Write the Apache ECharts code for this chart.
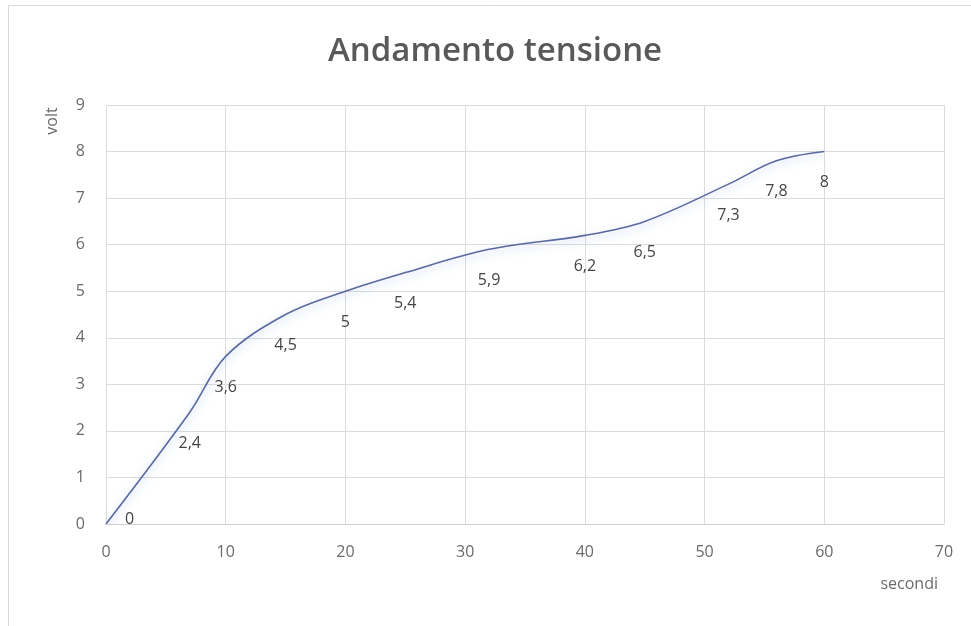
<!DOCTYPE html>
<html>
<head>
<meta charset="utf-8">
<script src="https://cdn.jsdelivr.net/npm/echarts@6/dist/echarts.min.js"></script>
<style>html,body{margin:0;padding:0;background:#fff}#c{width:971px;height:626px}</style>
</head>
<body>
<div id="c"></div>
<script>
var seconds = [0, 7, 10, 15, 20, 25, 32, 40, 45, 52, 56, 60];
var volts = [0, 2.4, 3.6, 4.5, 5, 5.4, 5.9, 6.2, 6.5, 7.3, 7.8, 8];
var labels = ['0', '2,4', '3,6', '4,5', '5', '5,4', '5,9', '6,2', '6,5', '7,3', '7,8', '8'];
var xTicks = [0, 10, 20, 30, 40, 50, 60, 70];
var yTicks = [0, 1, 2, 3, 4, 5, 6, 7, 8, 9];

var FONT = '"Open Sans", Lato, sans-serif';
var data = seconds.map(function (s, i) {
  var item = { value: [s, volts[i]] };
  if (i === 0) item.label = { position: 'right', distance: 18, offset: [0, -5] };
  return item;
});

var chart = echarts.init(document.getElementById('c'));
chart.setOption({
  animation: false,
  backgroundColor: '#fff',
  title: {
    text: 'Andamento tensione',
    left: 323, top: 30,
    textStyle: { fontFamily: FONT, fontSize: 33, fontWeight: 600, color: '#595959' }
  },
  grid: { left: 106, right: 27, top: 105, bottom: 102 },
  xAxis: {
    type: 'value', min: 0, max: 70, interval: 10,
    axisLine: { show: true, lineStyle: { color: '#d0d0d0' } },
    axisTick: { show: false },
    axisLabel: { color: '#6a6a6a', fontFamily: FONT, fontSize: 16, margin: 20,
      formatter: function (v) { return xTicks.indexOf(v) >= 0 ? String(v) : ''; } },
    splitLine: { show: true, lineStyle: { color: '#dcdcdc' } }
  },
  yAxis: {
    type: 'value', min: 0, max: 9, interval: 1,
    axisLine: { show: false },
    axisTick: { show: false },
    axisLabel: { color: '#6a6a6a', fontFamily: FONT, fontSize: 16, margin: 21,
      formatter: function (v) { return yTicks.indexOf(v) >= 0 ? String(v) : ''; } },
    splitLine: { show: true, lineStyle: { color: '#dcdcdc' } }
  },
  graphic: [
    { type: 'rect', shape: { x: 8.5, y: 5.5, width: 1200, height: 1200 }, style: { fill: 'none', stroke: '#d9d9d9', lineWidth: 1 }, silent: true },
    { type: 'text', x: 52, y: 121, rotation: Math.PI / 2, style: { text: 'volt', fontFamily: FONT, fontSize: 16, fill: '#6a6a6a', align: 'center', verticalAlign: 'middle' } },
    { type: 'text', x: 938, y: 584, style: { text: 'secondi', fontFamily: FONT, fontSize: 16, fill: '#6a6a6a', align: 'right', verticalAlign: 'middle' } }
  ],
  series: [{
    type: 'line',
    data: data,
    smooth: 0.35,
    showSymbol: true,
    symbol: 'circle',
    symbolSize: 2,
    itemStyle: { color: 'rgba(0,0,0,0)' },
    lineStyle: { color: '#5a6aa0', width: 1.6, shadowColor: 'rgba(120,160,220,0.6)', shadowBlur: 8, shadowOffsetY: 3 },
    label: {
      show: true, position: 'bottom', distance: 22,
      color: '#454545', fontFamily: FONT, fontSize: 16,
      formatter: function (p) { return labels[p.dataIndex]; }
    }
  }]
});
</script>
</body>
</html>
